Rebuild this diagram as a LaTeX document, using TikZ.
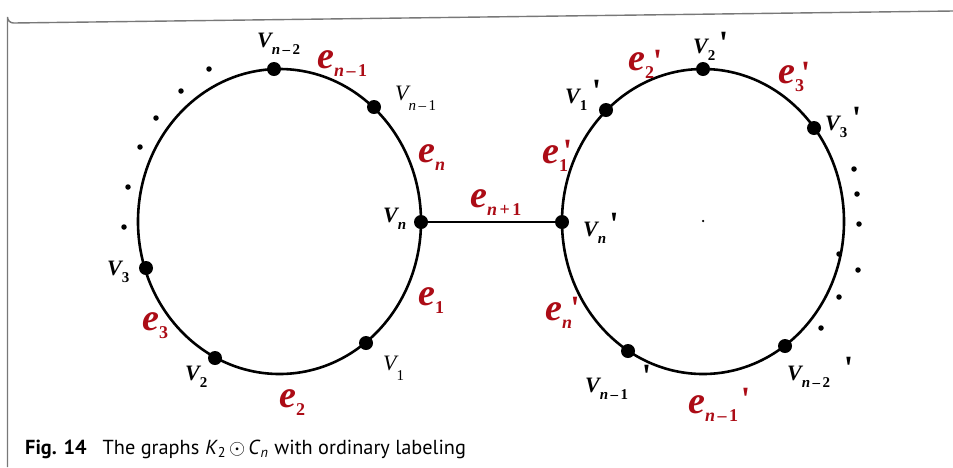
\documentclass[tikz,border=0pt]{standalone}
\usepackage{fontspec}
\setmainfont{Liberation Serif}
\newfontfamily\pfont{Liberation Serif}[Ligatures=TeXOff]
\newfontfamily\capfont{PT Sans}
\definecolor{ered}{RGB}{172,12,22}
\definecolor{framegray}{RGB}{120,120,120}
% V label: #1 subscript
\newcommand\Vb[1]{{\fontsize{22}{22}\selectfont\bfseries\itshape V}\raisebox{-7pt}{\fontsize{15}{15}\selectfont\bfseries #1}}
\newcommand\Vr[1]{{\fontsize{22}{22}\selectfont\itshape V}\raisebox{-10pt}{\fontsize{15}{15}\selectfont #1}}
\newcommand\El[1]{{\fontsize{38}{38}\selectfont\bfseries\itshape e}\raisebox{-8pt}{\fontsize{18}{18}\selectfont\bfseries #1}}
\newcommand\mn{\hspace{2.5pt}–\hspace{2.5pt}}
\newcommand\pl{\hspace{2.5pt}+\hspace{2.5pt}}
\newcommand\prm{\raisebox{0pt}[\height][-0.38em]{\symbol{39}}}
\begin{document}
\begin{tikzpicture}[x=1pt,y=-1pt,
  vtx/.style={circle,fill=black,inner sep=0pt,minimum size=14pt},
  sdot/.style={circle,fill=black,inner sep=0pt,minimum size=5.5pt},
  cyc/.style={line width=2.6pt},
  lab/.style={inner sep=0pt,anchor=base west,text=black},
  elab/.style={inner sep=0pt,anchor=base west,text=ered},
  prime/.style={inner sep=0pt,anchor=north,font=\pfont\fontsize{34}{34}\selectfont\upshape\bfseries},
]
\useasboundingbox (0,0) rectangle (953,467);
\fill[white] (0,0) rectangle (953,467);
% frame
\draw[framegray,line width=1.4pt] (7.5,467) -- (7.5,17) arc[start angle=180,end angle=90,radius=6] -- (953,11);

% cycles
\draw[cyc] (279.5,221.5) ellipse [x radius=141.5pt, y radius=152.5pt];
\draw[cyc] (703,221.5) ellipse [x radius=141pt, y radius=152.5pt];

% left vertices
\node[vtx] (vn2) at (274,69) {};
\node[vtx] (vn1) at (374,107) {};
\node[vtx] (vn) at (421,222) {};
\node[vtx] (v1) at (366,343) {};
\node[vtx] (v2) at (215,358) {};
\node[vtx] (v3) at (146,268) {};
% right vertices
\node[vtx] (v1p) at (606,110) {};
\node[vtx] (v2p) at (703,69) {};
\node[vtx] (v3p) at (814,128) {};
\node[vtx] (vnp) at (562,222) {};
\node[vtx] (vn1p) at (628,351) {};
\node[vtx] (vn2p) at (785,346) {};

% bridge edge
\draw[line width=2pt] (vn) -- (vnp);

% ellipsis dots left
\foreach \p [count=\i] in {(209,69),(181,91),(156,118),(140,147),(128,187),(124,227)}
  \node[sdot] (ld\i) at \p {};
% ellipsis dots right
\foreach \p [count=\i] in {(854,169),(857,194),(859,224),(839,254),(858,270),(839,297),(821,328)}
  \node[sdot] (rd\i) at \p {};
\node[circle,fill=black,inner sep=0pt,minimum size=2.5pt] (ctr) at (703,221) {};

% left labels
\node[lab] (lvn2) at (257,47) {\Vb{\textit{n}\mn 2}};
\node[elab] (len1) at (317,68) {\El{\textit{n}\mn 1}};
\node[lab] (lvn1) at (395,100) {\Vr{\textit{n}\mn 1}};
\node[elab] (len) at (418,162) {\El{\textit{n}}};
\node[lab] (lvn) at (383,222) {\Vb{\textit{n}}};
\node[elab] (lenp1) at (470,207) {\El{\textit{n}\pl 1}};
\node[lab] (lv3) at (107,275) {\Vb{3}};
\node[elab] (le3) at (142,330) {\El{3}};
\node[lab] (lv2) at (185,380) {\Vb{2}};
\node[elab] (le2) at (279,407) {\El{2}};
\node[lab] (lv1) at (383,370) {\Vr{1}};
\node[elab] (le1) at (418,305) {\El{1}};

% right labels
\node[lab] (lv1p) at (565,103) {\Vb{1}};
\node[prime] (p1) at (596.5,80) {\prm};
\node[elab] (le2p) at (628,70) {\El{2}};
\node[prime,text=ered] (p2) at (657.5,50) {\prm};
\node[lab] (lv2p) at (693,53) {\Vb{2}};
\node[prime] (p3) at (723.5,32) {\prm};
\node[elab] (le3p) at (778,83) {\El{3}};
\node[prime,text=ered] (p4) at (805.5,62) {\prm};
\node[lab] (lv3p) at (825,130) {\Vb{3}};
\node[prime] (p5) at (856.5,107) {\prm};
\node[elab] (le1p) at (542,163) {\El{1}};
\node[prime,text=ered] (p6) at (567.5,140) {\prm};
\node[lab] (lvnp) at (583,236) {\Vb{\textit{n}}};
\node[prime] (p7) at (614,213) {\prm};
\node[elab] (lenp) at (545,320) {\El{\textit{n}}};
\node[prime,text=ered] (p8) at (575,297) {\prm};
\node[lab] (lvn1p) at (585,392) {\Vb{\textit{n}\mn 1}};
\node[prime] (p9) at (646.5,365) {\prm};
\node[elab] (len1p) at (688,413) {\El{\textit{n}\mn 1}};
\node[prime,text=ered] (p10) at (745.5,388) {\prm};
\node[lab] (lvn2p) at (787,380) {\Vb{\textit{n}\mn 2}};
\node[prime] (p11) at (848.5,357) {\prm};

% caption
\node[inner sep=0pt,anchor=base west,font=\capfont\fontsize{20.3}{20.3}\selectfont] (cap) at (25,454)
  {\textbf{Fig. 14}\hspace{16pt}The graphs\hspace{6pt}\textit{K}\textsubscript{2}\hspace{3pt}$\odot$\hspace{3pt}\textit{C}\textsubscript{\textit{n}}\hspace{6pt}with ordinary labeling};
\end{tikzpicture}
\end{document}
